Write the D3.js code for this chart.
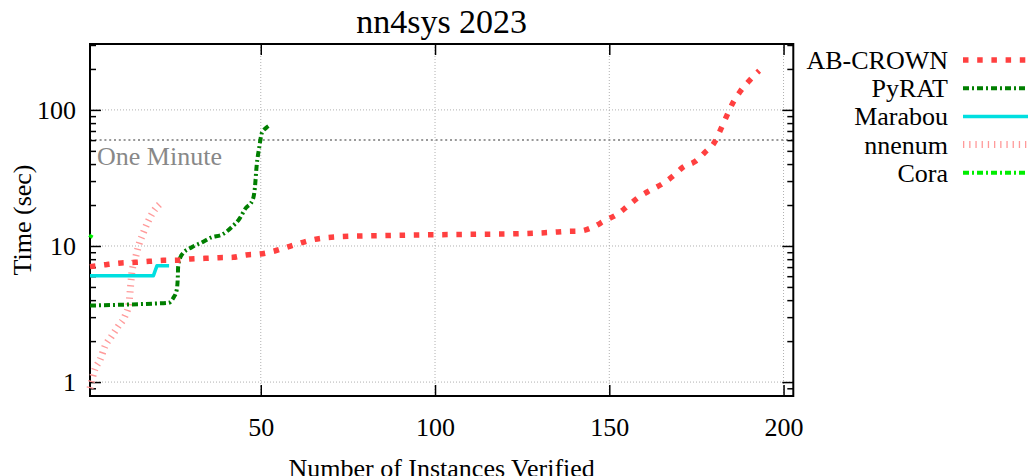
<!DOCTYPE html>
<html><head><meta charset="utf-8">
<script src="https://cdn.jsdelivr.net/npm/d3@7"></script>
<style>
body{margin:0;background:#fff;}
svg{display:block;font-family:"Liberation Serif","Times New Roman",serif;}
</style></head>
<body><svg id="c" width="1029" height="476"></svg>
<script>
// ---- data ----
const seriesNames = ["AB-CROWN","PyRAT","Marabou","nnenum","Cora"];
const abcrownX = [1,5.5,10,14,18,22,26,29.7,34,38,42,45.8,49.8,53.6,57,60.8,64.8,72.7,84,100,113,124,133.5,137.5,141.6,145.4,148.8,152.3,155.5,158.3,161.7,165.2,168.4,171.2,174.6,177.5,180.3,182,183.7,185.4,187.5,190.2,193];
const abcrownY = [7.05,7.29,7.5,7.58,7.71,7.84,7.86,8.03,8.11,8.2,8.25,8.6,8.73,9.13,9.7,10.4,11.1,11.7,11.9,12.1,12.2,12.3,12.6,12.8,12.9,13.8,15.4,17.1,19.9,22.7,25.6,28.6,32.8,38,41.7,48.9,58.4,72.1,90.5,112,136,164,194];
const pyratX = [1,10,20,23.5,24.9,25.9,26.2,26.3,27.3,30.2,33,35.9,38.8,41.7,44,45.5,47.7,48.3,48.8,49.6,50.3,51.5,52.7];
const pyratY = [3.65,3.7,3.78,3.82,4.15,4.78,5.98,7.08,8.6,9.8,10.6,11.6,12.1,13.8,16.0,18.7,21.9,26.6,38.4,53.8,67.6,73.6,77.6];
const marabouX = [1,19.2,20.2,23.7];
const marabouY = [6.05,6.05,7.15,7.15];
const nnenumX = [1,2.4,3.9,5.3,7.2,9.1,11,12.2,12.5,13,13.9,14.9,16.3,17.7,19.2,21.1];
const nnenumY = [0.9,1.24,1.46,1.83,2.17,2.57,3.04,3.81,4.6,6.34,7.9,9.97,12.5,15.2,17.9,20.4];
const coraX = [1,1.5];
const coraY = [11.5,12.1];
const xTicks = [50,100,150,200];
const yTicks = [1,10,100];
const yTickLabels = ["1","10","100"];
const oneMinute = 60;
const titleText = "nn4sys 2023";
const xLabel = "Number of Instances Verified";
const yLabel = "Time (sec)";

// ---- layout ----
const svg = d3.select("#c");
const L=90, R=793.3, T=44, B=396;
const x = d3.scaleLinear().domain([1,202.8]).range([L,R]);
const y = d3.scaleLog().domain([0.79,305]).range([B,T]);
const FS = 26;

// grid
const g = svg.append("g");
g.selectAll(".gx").data(xTicks).join("line")
  .attr("x1",d=>x(d)).attr("x2",d=>x(d)).attr("y1",T).attr("y2",B)
  .attr("stroke","#b0b0b0").attr("stroke-width",1).attr("stroke-dasharray","1,2");
g.selectAll(".gy").data(yTicks).join("line")
  .attr("x1",L).attr("x2",R).attr("y1",d=>y(d)).attr("y2",d=>y(d))
  .attr("stroke","#b0b0b0").attr("stroke-width",1).attr("stroke-dasharray","1,2");

// one minute line
svg.append("line").attr("x1",L).attr("x2",R).attr("y1",y(oneMinute)).attr("y2",y(oneMinute))
  .attr("stroke","#999").attr("stroke-width",2).attr("stroke-dasharray","2,2.8");
svg.append("text").attr("x",97).attr("y",165).attr("font-size",FS).attr("fill","#888").text("One Minute");

// minor ticks
const minor = [];
for (const dec of [0.1,1,10,100]) for (let k=2;k<=9;k++){ const v=k*dec; if(v>=0.8 && v<=305) minor.push(v); }

// axes
const axB = d3.axisBottom(x).tickValues(xTicks).tickSize(-11).tickPadding(22).tickFormat(d3.format("d"));
const axT = d3.axisTop(x).tickValues(xTicks).tickSize(-11).tickFormat("");
const axL = d3.axisLeft(y).tickValues(yTicks).tickSize(-11).tickPadding(14).tickFormat((d,i)=>yTickLabels[i]);
const axR = d3.axisRight(y).tickValues(yTicks).tickSize(-11).tickFormat("");
const axLm = d3.axisLeft(y).tickValues(minor).tickSize(-6).tickFormat("");
const axRm = d3.axisRight(y).tickValues(minor).tickSize(-6).tickFormat("");
function style(sel){
  sel.select(".domain").remove();
  sel.selectAll("line").attr("stroke","#000").attr("stroke-width",1.5);
  sel.selectAll("text").attr("font-size",FS).attr("font-family","Liberation Serif").attr("fill","#000");
}
svg.append("g").attr("transform",`translate(0,${B})`).call(axB).call(style);
svg.append("g").attr("transform",`translate(0,${T})`).call(axT).call(style);
svg.append("g").attr("transform",`translate(${L},0)`).call(axL).call(style);
svg.append("g").attr("transform",`translate(${R},0)`).call(axR).call(style);
svg.append("g").attr("transform",`translate(${L},0)`).call(axLm).call(style);
svg.append("g").attr("transform",`translate(${R},0)`).call(axRm).call(style);
svg.append("rect").attr("x",L).attr("y",T).attr("width",R-L).attr("height",B-T)
  .attr("fill","none").attr("stroke","#000").attr("stroke-width",2);

// series
const styles = [
  {name:"AB-CROWN", xs:abcrownX, ys:abcrownY, color:"#ff4040", w:5.5, dash:"5.5,8.7", curve:d3.curveMonotoneX},
  {name:"PyRAT", xs:pyratX, ys:pyratY, color:"#007f00", w:4, dash:"6,3,2,3", curve:d3.curveMonotoneX},
  {name:"Marabou", xs:marabouX, ys:marabouY, color:"#00dfe0", w:3.5, dash:null, curve:d3.curveLinear},
  {name:"nnenum", xs:nnenumX, ys:nnenumY, color:"#ff9a9a", w:7, dash:"1.3,4.9", curve:d3.curveMonotoneX},
  {name:"Cora", xs:coraX, ys:coraY, color:"#00ee00", w:4, dash:"6,3,2,3", curve:d3.curveLinear}
];
const drawOrder = [3,1,2,0,4];
for (const i of drawOrder){
  const s = styles[i];
  const pts = s.xs.map((v,j)=>[v,s.ys[j]]);
  const line = d3.line().x(d=>x(d[0])).y(d=>y(d[1])).curve(s.curve);
  svg.append("path").datum(pts).attr("d",line).attr("fill","none")
    .attr("stroke",s.color).attr("stroke-width",s.w)
    .attr("stroke-dasharray",s.dash).attr("stroke-linejoin","round");
}

// legend
styles.forEach((s,i)=>{
  const ly = 60 + i*28.2;
  svg.append("text").attr("x",948).attr("y",ly+9).attr("text-anchor","end").attr("font-size",FS).text(seriesNames[i]);
  svg.append("line").attr("x1",963).attr("x2",1028).attr("y1",ly).attr("y2",ly)
    .attr("stroke",s.color).attr("stroke-width",s.w).attr("stroke-dasharray",s.dash);
});

// titles
svg.append("text").attr("x",(L+R)/2).attr("y",33).attr("text-anchor","middle").attr("font-size",34).text(titleText);
svg.append("text").attr("x",(L+R)/2).attr("y",477).attr("text-anchor","middle").attr("font-size",FS).text(xLabel);
svg.append("text").attr("transform","translate(31,220) rotate(-90)").attr("text-anchor","middle").attr("font-size",FS).text(yLabel);
</script></body></html>
